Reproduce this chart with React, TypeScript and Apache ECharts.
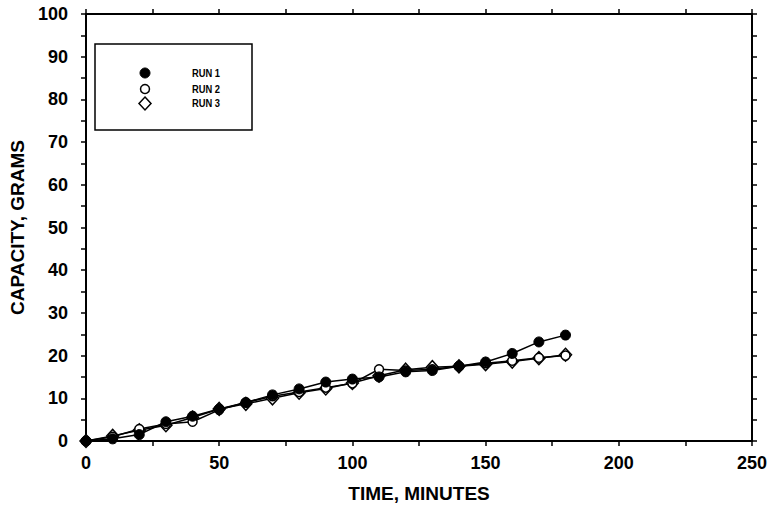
import React, { useEffect, useRef } from "react";
import * as echarts from "echarts";

const times = [0, 10, 20, 30, 40, 50, 60, 70, 80, 90, 100, 110, 120, 130, 140, 150, 160, 170, 180];
const run1 = [0, 0.5, 1.5, 4.5, 5.8, 7.5, 9, 10.8, 12.2, 13.8, 14.5, 15, 16.2, 16.5, 17.5, 18.5, 20.5, 23.2, 24.8];
const run2 = [0, 1, 2.8, 4, 4.5, 7.3, 9, 10.5, 11.5, 12.5, 13.5, 16.8, 16.5, 16.8, 17.5, 18.2, 18.8, 19.5, 20];
const run3 = [0, 1.2, 2.5, 3.7, 5.5, 7.5, 8.7, 10, 11.3, 12.3, 13.6, 15.3, 16.7, 17.3, 17.5, 18, 18.6, 19.4, 20.2];
const seriesNames = ["RUN 1", "RUN 2", "RUN 3"];
const xTitle = "TIME, MINUTES";
const yTitle = "CAPACITY, GRAMS";

const FONT = "'Liberation Sans', Arial, sans-serif";

export default function App() {
  const ref = useRef<HTMLDivElement>(null);
  useEffect(() => {
    if (!ref.current) return;
    const chart = echarts.init(ref.current, null, { renderer: "svg" });
    const pair = (arr: number[]) => times.map((t, i) => [t, arr[i]]);
    const axisLine = { show: true, onZero: false, lineStyle: { color: "#000", width: 2 } };
    const tick = { show: true, inside: false, length: 5, lineStyle: { color: "#000", width: 1.5 } };
    const baseX = {
      type: "value",
      min: 0,
      max: 250,
      interval: 25,
      axisLine,
      axisTick: tick,
      splitLine: { show: false },
    };
    const baseY = {
      type: "value",
      min: 0,
      max: 100,
      interval: 5,
      axisLine,
      axisTick: tick,
      splitLine: { show: false },
    };
    const line = { color: "#000", width: 1.5 };
    chart.setOption({
      animation: false,
      backgroundColor: "#fff",
      grid: { left: 86, right: 22, top: 14, bottom: 67 },
      xAxis: [
        {
          ...baseX,
          position: "bottom",
          name: xTitle,
          nameLocation: "middle",
          nameGap: 43,
          nameTextStyle: { fontFamily: FONT, fontWeight: "bold", fontSize: 19, color: "#000" },
          axisLabel: {
            show: true,
            margin: 13,
            fontFamily: FONT,
            fontWeight: "bold",
            fontSize: 18,
            color: "#000",
            formatter: (v: number) => (v % 50 === 0 ? String(v) : ""),
          },
        },
        { ...baseX, position: "top", axisLabel: { show: false } },
      ],
      yAxis: [
        {
          ...baseY,
          position: "left",
          name: yTitle,
          nameLocation: "middle",
          nameGap: 54,
          nameRotate: 90,
          nameTextStyle: { fontFamily: FONT, fontWeight: "bold", fontSize: 19, color: "#000" },
          axisLabel: {
            show: true,
            margin: 18,
            fontFamily: FONT,
            fontWeight: "bold",
            fontSize: 18,
            color: "#000",
            formatter: (v: number) => (v % 10 === 0 ? String(v) : ""),
          },
        },
        { ...baseY, position: "right", axisLabel: { show: false } },
      ],
      series: [
        {
          name: seriesNames[2],
          type: "line",
          data: pair(run3),
          symbol: "diamond",
          symbolSize: [12, 13],
          lineStyle: line,
          itemStyle: { color: "#fff", borderColor: "#000", borderWidth: 1.5 },
          z: 2,
        },
        {
          name: seriesNames[1],
          type: "line",
          data: pair(run2),
          symbol: "circle",
          symbolSize: 9,
          lineStyle: line,
          itemStyle: { color: "#fff", borderColor: "#000", borderWidth: 1.5 },
          z: 3,
        },
        {
          name: seriesNames[0],
          type: "line",
          data: pair(run1),
          symbol: "circle",
          symbolSize: 10,
          lineStyle: line,
          itemStyle: { color: "#000", borderColor: "#000", borderWidth: 1 },
          z: 4,
        },
      ],
      graphic: [
        {
          type: "rect",
          shape: { x: 95, y: 44, width: 157, height: 86 },
          style: { fill: "#fff", stroke: "#000", lineWidth: 1.5 },
          z: 10,
        },
        { type: "circle", shape: { cx: 145, cy: 73, r: 5 }, style: { fill: "#000", stroke: "#000" }, z: 11 },
        { type: "circle", shape: { cx: 145, cy: 89, r: 4.5 }, style: { fill: "#fff", stroke: "#000", lineWidth: 1.5 }, z: 11 },
        {
          type: "polygon",
          shape: { points: [[145, 97], [151, 103.5], [145, 110], [139, 103.5]] },
          style: { fill: "#fff", stroke: "#000", lineWidth: 1.5 },
          z: 11,
        },
        ...seriesNames.map((n, i) => ({
          type: "text",
          x: 192,
          y: [73, 89, 103][i],
          scaleX: 0.85,
          style: {
            text: n,
            fill: "#000",
            font: `bold 11px ${FONT}`,
            verticalAlign: "middle",
            align: "left",
          },
          z: 11,
        })),
      ],
    });
    return () => chart.dispose();
  }, []);
  return <div ref={ref} style={{ width: 774, height: 508, position: "absolute", left: 0, top: 0 }} />;
}
